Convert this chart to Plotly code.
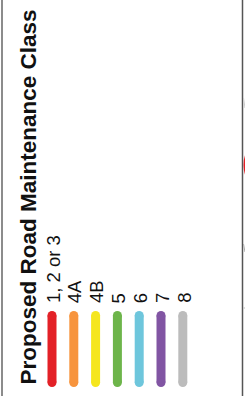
import plotly.graph_objects as go

title_text = "Proposed Road Maintenance Class"
classes = ["1, 2 or 3", "4A", "4B", "5", "6", "7", "8"]
colors = ["#e32127", "#f7943d", "#f5e61e", "#6db54a", "#6ec6dc", "#8155a3", "#bcbcbc"]

W, H = 245, 396
x0, dx = 52, 21.8
bar_top, bar_bot = 315.5, 382.5
label_bottom = 305

fig = go.Figure()
for i, (c, col) in enumerate(zip(classes, colors)):
    x = x0 + i * dx
    fig.add_trace(go.Scatter(
        x=[x, x], y=[bar_top, bar_bot], mode="lines+markers",
        line=dict(color=col, width=9),
        marker=dict(color=col, size=9, line=dict(width=0)),
        hoverinfo="skip", showlegend=False))
    fig.add_annotation(x=x + 1, y=label_bottom, text=c, textangle=-90,
                       showarrow=False, xanchor="center", yanchor="bottom",
                       font=dict(family="Liberation Sans, Arial", size=18.5, color="#111"))

fig.add_annotation(x=28, y=387, text="<b>" + title_text + "</b>", textangle=-90,
                   showarrow=False, xanchor="center", yanchor="bottom",
                   font=dict(family="Liberation Sans, Arial", size=22.5, color="#111"))

# frame lines
fig.add_shape(type="line", x0=2, x1=2, y0=0, y1=H, line=dict(color="#666", width=1.5))
fig.add_shape(type="line", x0=242.5, x1=242.5, y0=0, y1=H, line=dict(color="#555", width=1.5))
# partially visible map features beyond the frame
fig.add_shape(type="circle", x0=243.5, x1=256, y0=150, y1=180,
              fillcolor="#e32127", line=dict(width=0))
fig.add_shape(type="line", x0=243.5, x1=245, y0=98, y1=108, line=dict(color="#ccc", width=1))
fig.add_shape(type="line", x0=243.5, x1=245, y0=244, y1=252, line=dict(color="#aaa", width=1))
fig.add_shape(type="line", x0=243.5, x1=245, y0=308, y1=308, line=dict(color="#bbb", width=1))

fig.update_xaxes(range=[0, W], visible=False, fixedrange=True)
fig.update_yaxes(range=[H, 0], visible=False, fixedrange=True)
fig.update_layout(width=W, height=H, margin=dict(l=0, r=0, t=0, b=0),
                  plot_bgcolor="white", paper_bgcolor="white")
fig.write_html("out.html", config={"displayModeBar": False},
               post_script="document.body.style.margin='0';document.body.style.overflow='hidden';")
